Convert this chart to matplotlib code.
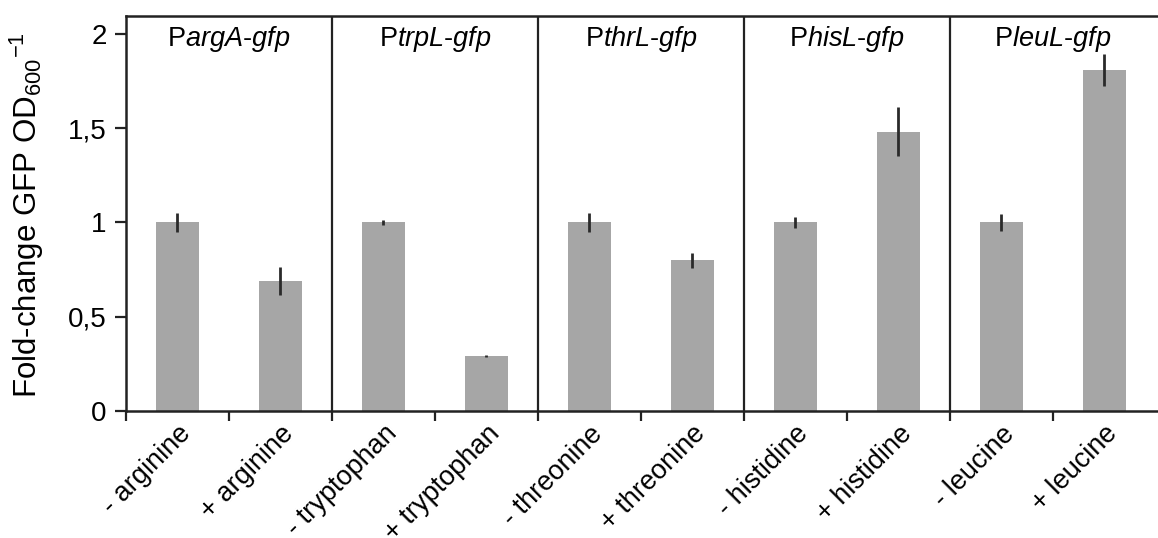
import matplotlib
matplotlib.use("Agg")
import matplotlib.pyplot as plt
import numpy as np

plt.rcParams['font.family'] = ['Liberation Sans', 'DejaVu Sans']
plt.rcParams['mathtext.fontset'] = 'custom'
plt.rcParams['mathtext.rm'] = 'Liberation Sans'
plt.rcParams['mathtext.it'] = 'Liberation Sans:italic'

# data
conditions = ['- arginine', '+ arginine', '- tryptophan', '+ tryptophan',
              '- threonine', '+ threonine', '- histidine', '+ histidine',
              '- leucine', '+ leucine']
fold_change = [1.0, 0.69, 1.0, 0.29, 1.0, 0.80, 1.0, 1.48, 1.0, 1.81]
errors = [0.05, 0.075, 0.015, 0.005, 0.05, 0.04, 0.03, 0.13, 0.045, 0.085]
promoters = ['argA', 'trpL', 'thrL', 'hisL', 'leuL']
yticks = [0, 0.5, 1, 1.5, 2]
ytick_labels = ['0', '0,5', '1', '1,5', '2']

fig = plt.figure(figsize=(11.58, 5.38), dpi=100)
ax = fig.add_axes([126/1158, 1-411/538, 1-126/1158, (411-16)/538])

x = np.arange(len(conditions))
ax.bar(x, fold_change, width=0.41, color='#a6a6a6', zorder=2)
ax.errorbar(x, fold_change, yerr=errors, fmt='none', ecolor='#2a2a2a',
            elinewidth=2, capsize=0, zorder=3)

# group separators
for k in range(1, len(promoters)):
    ax.axvline(2*k - 0.5, color='#222222', lw=1.6, zorder=1)

for k, p in enumerate(promoters):
    ax.text(2*k + 0.5, 1.975, 'P$\\mathit{' + p + '}$-$\\mathit{gfp}$',
            ha='center', va='center', fontsize=19.5)

ax.set_xlim(-0.5, len(conditions) - 0.48)
ax.set_ylim(0, 2.095)
ax.set_yticks(yticks)
ax.set_yticklabels(ytick_labels, fontsize=20)
ax.set_xticks(x)
ax.set_xticklabels(conditions, rotation=45, ha='right', rotation_mode='anchor',
                   fontsize=19.5)
ax.set_xticks(np.arange(len(conditions)) - 0.5, minor=True)
ax.tick_params(axis='x', which='major', length=0, pad=7)
ax.tick_params(axis='x', which='minor', length=7, width=1.6, color='#222222', direction='out')
ax.tick_params(axis='y', length=8, width=1.6, color='#222222', direction='out', pad=6)

for s in ['left', 'bottom', 'top']:
    ax.spines[s].set_linewidth(1.8)
    ax.spines[s].set_color('#222222')
ax.spines['right'].set_visible(False)

ax.set_ylabel('Fold-change GFP OD$_{600}$$^{-1}$', fontsize=22.5)
ax.yaxis.set_label_coords(-(126 - 46)/1032, 0.495)

plt.savefig('out.png', dpi=100)
